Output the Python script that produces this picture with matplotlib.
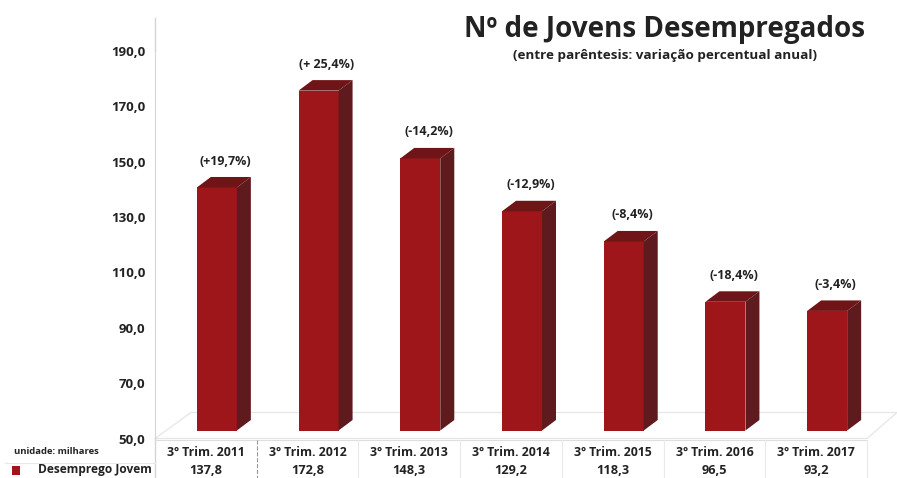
import matplotlib
matplotlib.use('Agg')
import matplotlib.pyplot as plt
from matplotlib.patches import Polygon
from matplotlib.transforms import Affine2D
import numpy as np

plt.rcParams['font.family'] = ['Open Sans', 'DejaVu Sans']

trims = ['3º Trim. 2011', '3º Trim. 2012', '3º Trim. 2013', '3º Trim. 2014',
         '3º Trim. 2015', '3º Trim. 2016', '3º Trim. 2017']
valores = [137.8, 172.8, 148.3, 129.2, 118.3, 96.5, 93.2]
valores_txt = ['137,8', '172,8', '148,3', '129,2', '118,3', '96,5', '93,2']
variacao = ['(+19,7%)', '(+ 25,4%)', '(-14,2%)', '(-12,9%)', '(-8,4%)', '(-18,4%)', '(-3,4%)']
yticks = [50, 70, 90, 110, 130, 150, 170, 190]

W, H = 897, 478
# axes limits in pixels of the picture
left, right, bottom, top = 155, 867, 438.5, 51

fig = plt.figure(figsize=(W / 100, H / 100), dpi=100)
ax = fig.add_axes([left / W, 1 - bottom / H, (right - left) / W, (bottom - top) / H])
ax.set_xlim(-0.5, 6.5)
ax.set_ylim(50, 190)
ax.patch.set_alpha(0)

px_x = (right - left) / 7
px_y = (bottom - top) / 140
front = ax.transData + Affine2D().translate(11, 8)
w = 40 / px_x
dx = 14 / px_x
dy = 10.5 / px_y

# floor of the 3D chart
floor = Polygon([(-0.5, 50), (-0.5 + 36 / px_x, 50 + 26 / px_y), (6.5 + 30 / px_x, 50 + 26 / px_y),
                 (6.5, 50)], closed=True, fc='white', ec='#e6e6e6', lw=0.9, clip_on=False, zorder=1)
ax.add_patch(floor)

x = np.arange(len(valores))
for i, v in zip(x, valores):
    ax.bar(i, v - 50, bottom=50, width=w, color='#9e151a', transform=front, zorder=3, clip_on=False)
    side = [(i + w / 2, 50), (i + w / 2 + dx, 50 + dy), (i + w / 2 + dx, v + dy), (i + w / 2, v)]
    ax.add_patch(Polygon(side, fc='#5e1a1c', ec='none', transform=front, zorder=3, clip_on=False))
    lid = [(i - w / 2, v), (i - w / 2 + dx, v + dy), (i + w / 2 + dx, v + dy), (i + w / 2, v)]
    ax.add_patch(Polygon(lid, fc='#6f1417', ec='none', transform=front, zorder=3, clip_on=False))

for i, v, t in zip(x, valores, variacao):
    ax.annotate(t, (i, v + dy), xycoords=front, xytext=(6, 11.5), textcoords='offset points',
                ha='center', va='center', fontsize=9, fontweight='bold', color='#222222')

for s in ['top', 'right', 'bottom']:
    ax.spines[s].set_visible(False)
ax.spines['left'].set_color('#d5d5d5')
ax.spines['left'].set_bounds(50, 190)
ax.set_xticks([])
ax.set_yticks(yticks)
ax.set_yticklabels([f'{t},0' for t in yticks], fontsize=9.5, fontweight='bold', color='#222222')
ax.tick_params(axis='y', length=0, pad=7)


def fx(px):
    return px / W


def fy(py):
    return 1 - py / H


# left axis continues above and below the plot
fig.add_artist(plt.Line2D([fx(left)] * 2, [fy(18), fy(51)], color='#d5d5d5', lw=1))
fig.add_artist(plt.Line2D([fx(left)] * 2, [fy(438), fy(478)], color='#d5d5d5', lw=1))

# data table under the chart
fig.add_artist(plt.Line2D([fx(5), fx(left)], [fy(463)] * 2, color='#e8e8e8', lw=0.8))
fig.add_artist(plt.Line2D([fx(left), fx(right)], [fy(440)] * 2, color='#dedede', lw=0.8))
for i in range(1, 8):
    px = left + i * px_x
    ls = '--' if i == 1 else '-'
    c = '#999999' if i == 1 else '#eaeaea'
    fig.add_artist(plt.Line2D([fx(px)] * 2, [fy(440), fy(478)], color=c, lw=0.8, ls=ls))
for i, (t, v) in enumerate(zip(trims, valores_txt)):
    cx = fx(left + (i + 0.5) * px_x)
    fig.text(cx, fy(453), t, ha='center', va='center', fontsize=8.8, fontweight='bold', color='#222222')
    fig.text(cx, fy(471), v, ha='center', va='center', fontsize=9.2, fontweight='bold', color='#222222')

fig.text(fx(14), fy(452), 'unidade: milhares', ha='left', va='center', fontsize=6.8,
         fontweight='bold', color='#222222')
fig.text(fx(38), fy(470), 'Desemprego Jovem', ha='left', va='center', fontsize=8.6,
         fontweight='bold', color='#222222')
fig.add_artist(plt.Rectangle((fx(12), fy(475)), 8 / W, 9 / H, fc='#a3151b', ec='none'))

fig.text(fx(664), fy(29), 'Nº de Jovens Desempregados', ha='center', va='center', fontsize=20,
         fontweight='bold', color='#222222')
fig.text(fx(665), fy(56), '(entre parêntesis: variação percentual anual)', ha='center', va='center',
         fontsize=9.7, fontweight='bold', color='#222222')

fig.savefig('out.png', dpi=100)
